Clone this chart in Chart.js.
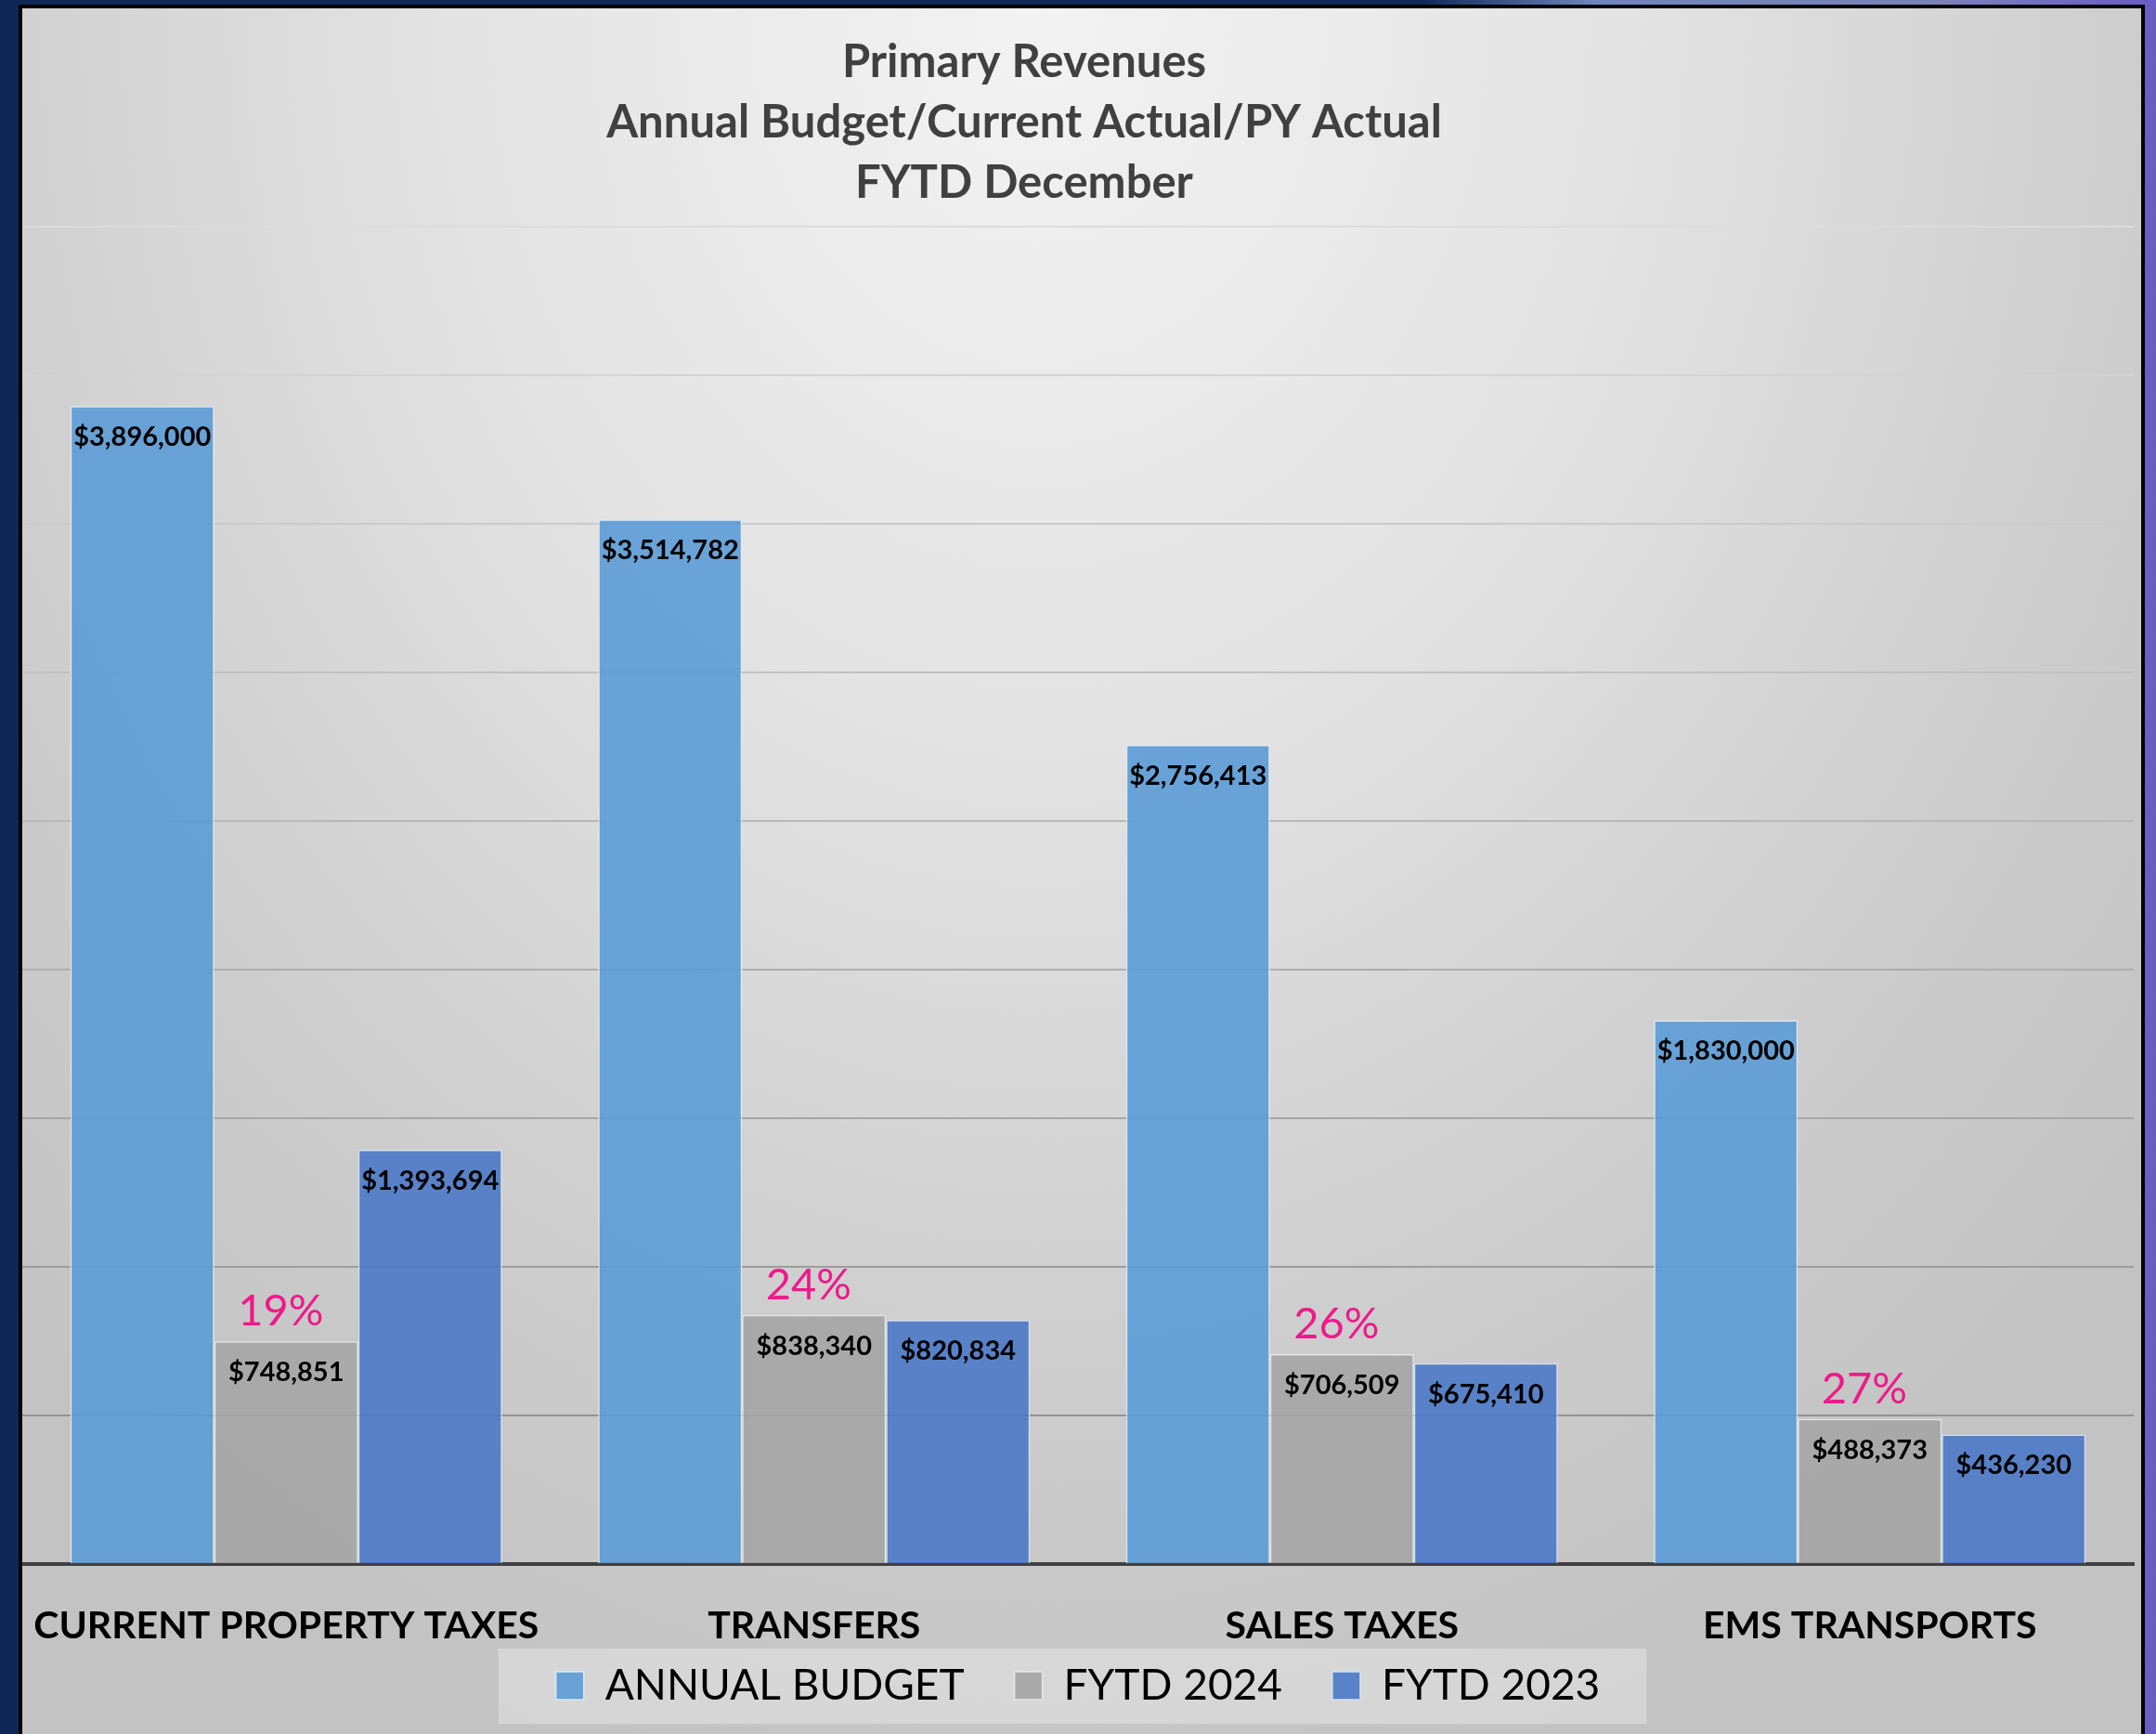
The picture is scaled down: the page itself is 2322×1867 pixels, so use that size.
<!DOCTYPE html>
<html>
<head>
<meta charset="utf-8">
<script src="https://cdn.jsdelivr.net/npm/chart.js@4.4.1/dist/chart.umd.min.js"></script>
<style>
  html, body {
    margin: 0;
    padding: 0;
    width: 2322px;
    height: 1867px;
    overflow: hidden;
    background: linear-gradient(to right, #0f2756 0%, #10285a 66%, #6f86bd 74%, #7a82b8 90%, #6a5cc4 100%);
  }
  .frame {
    position: absolute;
    left: 20px;
    top: 5px;
    width: 2282px;
    height: 1880px;
    border: 4px solid #000;
    background: radial-gradient(ellipse 70% 105% at 48% 0%, #f3f3f3 0%, #e3e3e3 40%, #cdcdcd 75%, #c3c3c3 100%);
  }
  .chartBox {
    position: absolute;
    left: 0;
    top: 0;
    width: 2278px;
    height: 1858px;
  }
</style>
</head>
<body>
<div class="frame">
  <div class="chartBox"><canvas id="revenueChart"></canvas></div>
</div>
<script>
const titleLines = ['Primary Revenues', 'Annual Budget/Current Actual/PY Actual', 'FYTD December']
const categories = ['CURRENT PROPERTY TAXES', 'TRANSFERS', 'SALES TAXES', 'EMS TRANSPORTS']
const seriesNames = ['ANNUAL BUDGET', 'FYTD 2024', 'FYTD 2023']
const annualBudget = [3896000, 3514782, 2756413, 1830000]
const fytd2024 = [748851, 838340, 706509, 488373]
const fytd2023 = [1393694, 820834, 675410, 436230]
const pctLabels = ['19%', '24%', '26%', '27%']

const FONT = 'Lato, "Open Sans", sans-serif'
Chart.defaults.font.family = FONT

function money(v) {
  return '$' + v.toLocaleString('en-US')
}

function mix(a, b, t) {
  const c = a.map((x, i) => Math.round(x + (b[i] - x) * t))
  return `rgb(${c[0]},${c[1]},${c[2]})`
}

// title, legend panel, value labels and percent labels
const annotate = {
  id: 'annotate',
  afterLayout(chart) {
    // x band was shortened in afterFit, widen its clip so labels still show
    const s = chart.scales.x
    s.bottom = s.top + 140
  },
  beforeDraw(chart) {
    const { ctx } = chart
    const boxes = chart.legend && chart.legend.legendHitBoxes
    if (!boxes || !boxes.length) return
    const left = Math.min(...boxes.map(b => b.left)) - 62
    const right = Math.max(...boxes.map(b => b.left + b.width)) + 50
    const mid = boxes[0].top + boxes[0].height / 2
    ctx.save()
    ctx.fillStyle = 'rgba(255,255,255,0.3)'
    ctx.fillRect(left, mid - 40, right - left, 81)
    ctx.restore()
  },
  afterDatasetsDraw(chart) {
    const { ctx } = chart
    ctx.save()
    ctx.textAlign = 'center'
    ctx.textBaseline = 'alphabetic'

    ctx.fillStyle = '#000'
    ctx.font = 'bold 29px ' + FONT
    chart.data.datasets.forEach((ds, i) => {
      chart.getDatasetMeta(i).data.forEach((bar, j) => {
        ctx.fillText(money(ds.data[j]), bar.x, bar.y + 43)
      })
    })

    ctx.fillStyle = '#ED1A8A'
    ctx.font = '47px ' + FONT
    chart.getDatasetMeta(1).data.forEach((bar, j) => {
      ctx.fillText(pctLabels[j], bar.x - 6, bar.y - 17)
    })

    ctx.fillStyle = '#404040'
    ctx.font = 'bold 49px ' + FONT
    ctx.textBaseline = 'middle'
    titleLines.forEach((line, k) => {
      ctx.fillText(line, 1079, 58 + k * 65)
    })
    ctx.restore()
  }
}

const data = {
  labels: categories,
  datasets: [
    {
      label: seriesNames[0],
      data: annualBudget,
      backgroundColor: 'rgba(91,155,213,0.9)',
      borderColor: 'rgba(225,236,248,0.9)',
      borderWidth: 1.5,
    },
    {
      label: seriesNames[1],
      data: fytd2024,
      backgroundColor: 'rgba(165,165,165,0.9)',
      borderColor: 'rgba(235,235,235,0.9)',
      borderWidth: 1.5,
    },
    {
      label: seriesNames[2],
      data: fytd2023,
      backgroundColor: 'rgba(72,118,198,0.88)',
      borderColor: 'rgba(215,228,245,0.9)',
      borderWidth: 1.5,
    },
  ],
}

const options = {
  responsive: true,
  maintainAspectRatio: false,
  animation: false,
  layout: {
    padding: { top: 235, left: 0, right: 4, bottom: 19 },
  },
  datasets: {
    bar: { barPercentage: 1, categoryPercentage: 0.818 },
  },
  scales: {
    x: {
      grid: { display: false, drawTicks: false },
      border: { color: '#404040', width: 4 },
      ticks: {
        color: '#000',
        padding: 10,
        font: { size: 41, weight: 'bold', lineHeight: 2.75 },
        maxRotation: 0,
        autoSkip: false,
      },
      // labels hang below; keep the band short so the legend sits close
      afterFit: scale => { scale.height = 54 },
    },
    y: {
      min: 0,
      max: 4500000,
      ticks: { display: false, stepSize: 500000 },
      border: { display: false },
      grid: {
        drawTicks: false,
        lineWidth: 2,
        color: c => mix([138, 138, 138], [220, 220, 220], (c.tick ? c.tick.value : 0) / 4500000),
      },
    },
  },
  plugins: {
    legend: {
      position: 'bottom',
      labels: {
        color: '#000',
        boxWidth: 30,
        boxHeight: 30,
        padding: 54,
        font: { size: 46 },
      },
    },
    tooltip: { enabled: false },
  },
}

new Chart(document.getElementById('revenueChart').getContext('2d'), {
  type: 'bar',
  data: data,
  options: options,
  plugins: [annotate],
})
</script>
</body>
</html>
